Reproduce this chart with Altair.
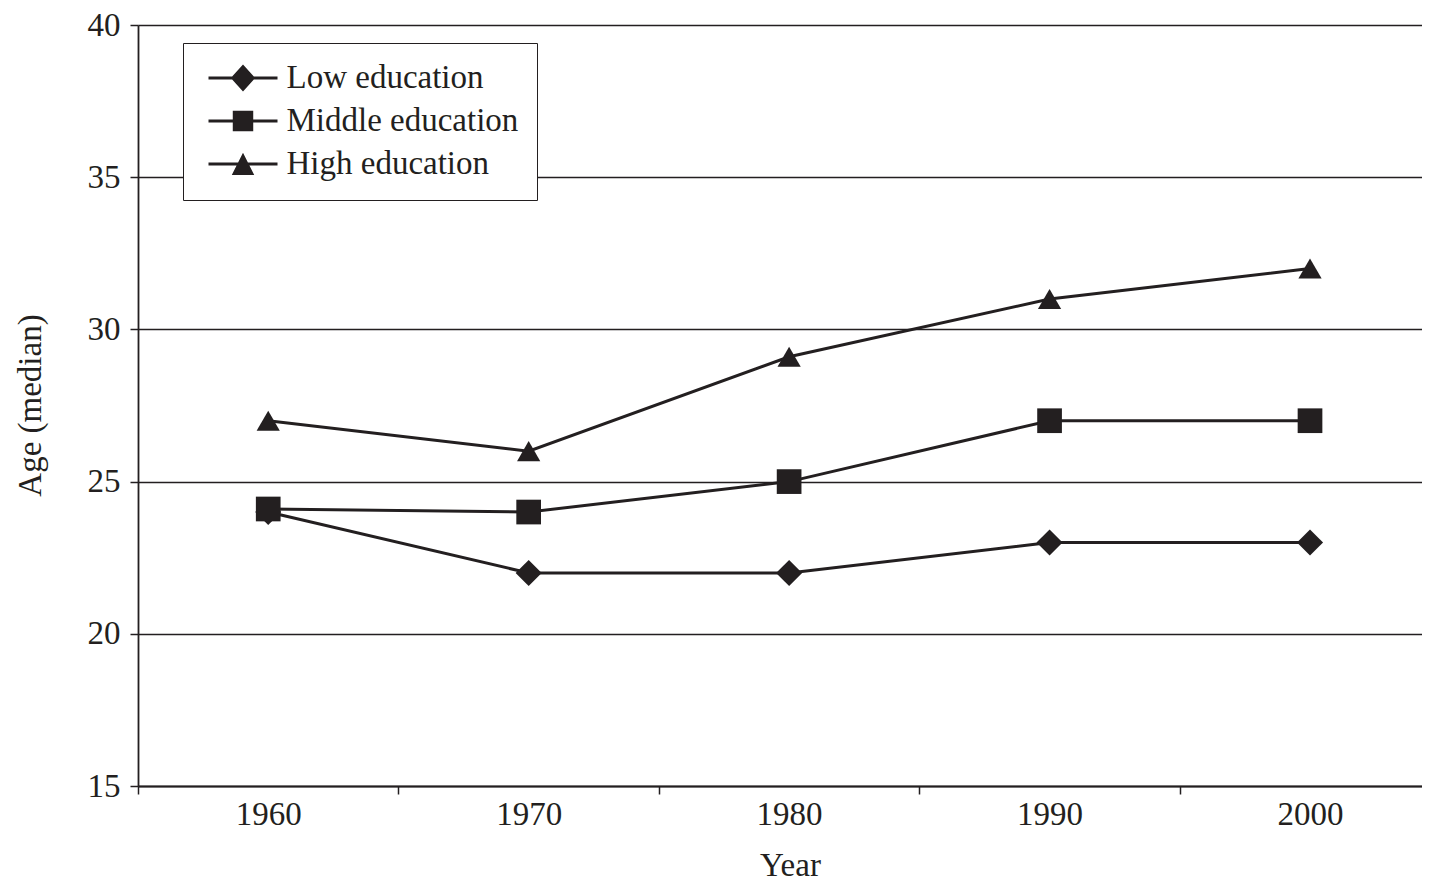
import altair as alt
import pandas as pd

# ---- data ----
years = [1960, 1970, 1980, 1990, 2000]
series_names = ["Low education", "Middle education", "High education"]
low_edu = [24.0, 22.0, 22.0, 23.0, 23.0]
middle_edu = [24.1, 24.0, 25.0, 27.0, 27.0]
high_edu = [27.0, 26.0, 29.1, 31.0, 32.0]
y_ticks = [15, 20, 25, 30, 35, 40]
x_label_years = [1960, 1970, 1980, 1990, 2000]
x_tick_years = [1955, 1965, 1975, 1985, 1995]

rows = []
for name, vals in zip(series_names, [low_edu, middle_edu, high_edu]):
    for yr, v in zip(years, vals):
        rows.append({"year": yr, "age": v, "series": name})
df = pd.DataFrame(rows)

INK = "#231f20"
FONT = "Liberation Serif"
FS = 33

# legend symbols: filled bar (the line) plus marker; path units = sqrt(symbolSize)/2 px
u = 16.5
dx = 24.5 / u
def p(v):
    return f"{v:.3f}"
L = 34.5 / u
h = 1.5 / u
line_part = f"M{p(dx - L)},{p(-h)}L{p(dx + L)},{p(-h)}L{p(dx + L)},{p(h)}L{p(dx - L)},{p(h)}Z"
diamond = line_part + f"M{p(dx - 0.74)},0L{p(dx)},{p(-0.82)}L{p(dx + 0.74)},0L{p(dx)},{p(0.82)}Z"
square = line_part + f"M{p(dx - 0.62)},{p(-0.62)}L{p(dx + 0.62)},{p(-0.62)}L{p(dx + 0.62)},{p(0.62)}L{p(dx - 0.62)},{p(0.62)}Z"
triangle = line_part + f"M{p(dx)},{p(-0.68)}L{p(dx + 0.68)},{p(0.66)}L{p(dx - 0.68)},{p(0.66)}Z"

x_all = sorted(x_tick_years + x_label_years)

x_enc = alt.X(
    "year:Q",
    scale=alt.Scale(domain=[1955, 2004.3], nice=False, zero=False),
    axis=alt.Axis(
        values=x_all,
        format="d",
        labelExpr="datum.value % 10 == 0 ? datum.label : ''",
        tickOpacity={"condition": {"test": "datum.value % 10 == 0", "value": 0}, "value": 1},
        tickSize=8,
        tickWidth=1.5,
        tickColor=INK,
        domainColor=INK,
        domainWidth=1.8,
        grid=False,
        labelFont=FONT,
        labelFontSize=FS,
        labelColor=INK,
        labelPadding=4,
        labelFlush=False,
        title="Year",
        titleFont=FONT,
        titleFontSize=FS,
        titleFontWeight="normal",
        titleColor=INK,
        titleX=652,
        titleY=89,
        titleAlign="center",
        titleBaseline="alphabetic",
    ),
)

y_enc = alt.Y(
    "age:Q",
    scale=alt.Scale(domain=[15, 40], nice=False, zero=False),
    axis=alt.Axis(
        values=y_ticks,
        grid=True,
        gridColor=INK,
        gridWidth=1.6,
        gridOpacity=1,
        tickSize=8,
        tickWidth=1.5,
        tickColor=INK,
        domainColor=INK,
        domainWidth=1.8,
        labelFont=FONT,
        labelFontSize=FS,
        labelColor=INK,
        labelPadding=10,
        title="Age (median)",
        titleFont=FONT,
        titleFontSize=FS,
        titleFontWeight="normal",
        titleColor=INK,
        titleAngle=270,
        titleX=-108,
        titleY=380,
        titleAlign="center",
        titleBaseline="middle",
    ),
)

base = alt.Chart(df)

lines = base.mark_line(color=INK, strokeWidth=3).encode(
    x=x_enc, y=y_enc, detail="series:N"
)

points = base.mark_point(filled=True, opacity=1, color=INK).encode(
    x=x_enc,
    y=y_enc,
    shape=alt.Shape(
        "series:N",
        scale=alt.Scale(domain=series_names, range=["diamond", "square", "triangle-up"]),
        legend=None,
    ),
    size=alt.Size(
        "series:N",
        scale=alt.Scale(domain=series_names, range=[680, 540, 600]),
        legend=None,
    ),
)

legend_layer = (
    alt.Chart(pd.DataFrame({"series": series_names}))
    .transform_filter("false")
    .mark_point(filled=True, color=INK, opacity=1)
    .encode(
        shape=alt.Shape(
            "series:N",
            scale=alt.Scale(domain=series_names, range=[diamond, square, triangle]),
            legend=alt.Legend(
                title=None,
                orient="none",
                legendX=45,
                legendY=18,
                padding=18.5,
                strokeColor=INK,
                fillColor="white",
                cornerRadius=0,
                symbolSize=FS * FS,
                symbolFillColor=INK,
                symbolStrokeColor=INK,
                symbolStrokeWidth=0.5,
                symbolOpacity=1,
                labelFont=FONT,
                labelFontSize=FS,
                labelColor=INK,
                labelOffset=51,
                rowPadding=9,
                clipHeight=FS,
                labelLimit=400,
            ),
        )
    )
)

chart = (
    alt.layer(lines, points, legend_layer)
    .resolve_scale(shape="independent")
    .properties(
        width=1284,
        height=761,
        autosize=alt.AutoSizeParams(type="none"),
        padding={"left": 130, "top": 17, "right": 0, "bottom": 96},
        background="white",
    )
    .configure_view(stroke=None)
)

chart.save("out.html", embed_options={"renderer": "svg", "actions": False})
